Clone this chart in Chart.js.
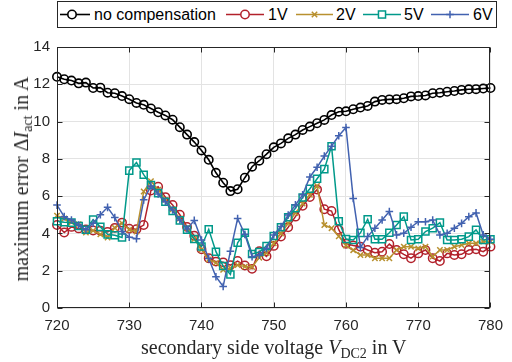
<!DOCTYPE html>
<html><head><meta charset="utf-8">
<script src="https://cdn.jsdelivr.net/npm/chart.js@4.4.0/dist/chart.umd.min.js"></script>
<style>
html,body{margin:0;padding:0;background:#fff;}
#wrap{position:relative;width:512px;height:362px;overflow:hidden;background:#fff;}
#c{position:absolute;left:0;top:0;}
.t{position:absolute;font-family:"Liberation Serif","Times New Roman",serif;font-size:20px;color:#262626;white-space:nowrap;line-height:1;}
.t i{font-style:italic;}
.t sub{font-size:70%;vertical-align:-0.3em;line-height:0;}
#legend{position:absolute;left:57px;top:1px;width:440px;height:27px;border:1px solid #262626;background:#fff;box-sizing:border-box;}
#legend svg{position:absolute;left:0;top:0;}
.lt{position:absolute;top:0;height:25px;line-height:25px;font-family:"Liberation Sans",Arial,sans-serif;font-size:16px;color:#000;white-space:nowrap;}
</style></head>
<body>
<div id="wrap">
<canvas id="c" width="512" height="362"></canvas>
<div id="legend"></div>
<div class="t" id="xt">secondary side voltage <i>V</i><sub>DC2</sub> in V</div>
<div class="t" id="yt">maximum error Δ<i>I</i><sub>act</sub> in A</div>
</div>
<script>
const voltage = [720,721,722,723,724,725,726,727,728,729,730,731,732,733,734,735,736,737,738,739,740,741,742,743,744,745,746,747,748,749,750,751,752,753,754,755,756,757,758,759,760,761,762,763,764,765,766,767,768,769,770,771,772,773,774,775,776,777,778,779,780];
const xTicks = [720,730,740,750,760,770,780];
const yTicks = [0,2,4,6,8,10,12,14];
const seriesNames = ["no compensation","1V","2V","5V","6V"];
const noComp = [12.4,12.27,12.2,12.05,12.09,11.8,11.82,11.55,11.52,11.37,11.2,11.0,10.9,10.7,10.5,10.33,10.1,9.7,9.3,8.9,8.45,7.95,7.25,6.72,6.27,6.37,6.99,7.58,7.9,8.25,8.62,8.83,9.1,9.3,9.55,9.73,9.91,10.09,10.35,10.53,10.55,10.66,10.75,10.84,11.07,11.16,11.19,11.2,11.25,11.35,11.37,11.4,11.52,11.55,11.6,11.64,11.7,11.73,11.74,11.77,11.8];
const comp1V = [4.45,4.05,4.35,4.27,4.22,4.16,4.14,4.08,4.3,4.58,4.25,4.23,4.45,6.3,6.5,5.95,5.53,5.0,4.35,3.88,3.15,2.67,2.49,2.45,2.3,2.52,2.28,2.1,3.05,2.77,3.33,3.83,4.33,4.9,5.48,5.95,6.35,5.3,5.2,4.2,3.45,3.35,3.29,3.11,2.97,3.02,3.43,3.11,2.88,2.67,2.93,3.11,2.67,2.52,2.93,2.84,2.88,3.11,3.15,3.02,3.29];
const comp2V = [4.95,4.8,4.6,4.5,4.05,4.15,3.95,3.78,4.3,4.55,4.2,4.1,6.25,6.8,6.35,5.8,5.3,4.8,4.3,3.7,3.13,2.6,2.42,2.05,2.15,2.3,2.22,2.2,2.7,2.95,3.47,4.0,4.54,5.1,5.6,6.07,6.55,4.45,4.28,3.85,3.35,3.1,2.84,2.84,2.67,2.67,2.67,3.11,3.29,3.29,3.2,3.29,2.76,3.11,3.11,3.29,3.38,3.47,3.47,3.56,3.56];
const comp5V = [4.65,4.6,4.58,4.4,4.2,4.74,4.35,3.95,3.9,3.78,7.37,7.8,7.15,6.6,6.16,5.7,5.2,4.7,4.2,3.7,3.3,4.22,3.02,2.25,1.8,3.5,4.04,2.9,3.0,3.33,3.86,4.33,4.87,5.35,5.93,6.4,6.93,7.45,8.68,4.65,3.7,3.65,4.03,4.76,3.69,3.69,4.04,4.45,4.9,3.65,3.69,4.1,4.28,4.58,3.65,3.65,3.69,3.83,4.19,3.65,3.69];
const comp6V = [5.52,4.9,4.72,4.45,4.2,4.55,5.0,5.4,4.85,4.1,3.8,3.72,5.8,6.55,6.12,5.7,5.26,4.72,4.24,4.7,3.65,2.65,1.68,1.15,3.05,4.8,3.95,2.75,2.84,3.2,3.92,4.37,4.99,5.53,6.07,7.03,7.55,8.15,8.68,9.24,9.68,5.88,3.25,3.83,4.28,4.72,5.17,3.92,4.01,4.33,4.63,4.63,4.72,3.92,4.01,4.28,4.54,4.9,5.1,3.92,3.69];

const styles = [
  {color:'#000000', point:'circle',   r:4.2, lw:1.6},
  {color:'#b2212b', point:'circle',   r:4.2, lw:1.5},
  {color:'#b8902f', point:'crossRot', r:3.8, lw:1.5},
  {color:'#00998a', point:'rect',     r:5.0, lw:1.5},
  {color:'#4262b0', point:'cross',    r:3.8, lw:1.5}
];
const allValues = [noComp, comp1V, comp2V, comp5V, comp6V];

const datasets = allValues.map((vals, k) => ({
  label: seriesNames[k],
  data: voltage.map((v, i) => ({x: v, y: vals[i]})),
  borderColor: styles[k].color,
  backgroundColor: 'rgba(0,0,0,0)',
  pointBorderColor: styles[k].color,
  pointBackgroundColor: 'rgba(0,0,0,0)',
  pointStyle: styles[k].point,
  pointRadius: styles[k].r,
  pointBorderWidth: styles[k].lw,
  borderWidth: styles[k].lw,
  tension: 0,
  clip: false,
  order: 5 - k
}));

const boxPlugin = {
  id: 'boxTicks',
  afterDatasetsDraw(chart) {
    const {ctx, chartArea: a, scales: {x, y}} = chart;
    const L = Math.round(a.left) + 0.5, R = Math.round(a.right) - 0.5;
    const T = Math.round(a.top) + 0.5, B = Math.round(a.bottom) - 0.5;
    const tl = 5;
    ctx.save();
    ctx.strokeStyle = '#262626';
    ctx.lineWidth = 1;
    ctx.beginPath();
    x.ticks.forEach(t => {
      const px = Math.round(x.getPixelForValue(t.value)) + 0.5;
      ctx.moveTo(px, B); ctx.lineTo(px, B - tl);
      ctx.moveTo(px, T); ctx.lineTo(px, T + tl);
    });
    y.ticks.forEach(t => {
      const py = Math.round(y.getPixelForValue(t.value)) + 0.5;
      ctx.moveTo(L, py); ctx.lineTo(L + tl, py);
      ctx.moveTo(R, py); ctx.lineTo(R - tl, py);
    });
    ctx.stroke();
    ctx.strokeRect(L, T, R - L, B - T);
    ctx.restore();
  }
};

const tickFont = {family: '"Liberation Sans", Arial, sans-serif', size: 15};
const chart = new Chart(document.getElementById('c'), {
  type: 'line',
  data: {datasets},
  options: {
    responsive: false,
    animation: false,
    devicePixelRatio: 1,
    layout: {padding: {top: 47, right: 15, left: 0, bottom: 0}},
    plugins: {legend: {display: false}, tooltip: {enabled: false}},
    scales: {
      x: {
        type: 'linear', min: 720, max: 780,
        afterBuildTicks: s => { s.ticks = xTicks.map(v => ({value: v})); },
        afterFit: s => { s.height = 54; },
        grid: {color: '#e3e3e3', lineWidth: 1, drawTicks: false},
        border: {display: false},
        ticks: {font: tickFont, color: '#262626', padding: 9, maxRotation: 0}
      },
      y: {
        type: 'linear', min: 0, max: 14,
        afterBuildTicks: s => { s.ticks = yTicks.map(v => ({value: v})); },
        afterFit: s => { s.width = 57; },
        grid: {color: '#e3e3e3', lineWidth: 1, drawTicks: false},
        border: {display: false},
        ticks: {font: tickFont, color: '#262626', padding: 7}
      }
    }
  },
  plugins: [boxPlugin]
});

// axis titles placed from the chart area
const a = chart.chartArea;
const xt = document.getElementById('xt');
xt.style.left = ((a.left + a.right) / 2) + 'px';
xt.style.top = '347px';
xt.style.transform = 'translate(-50%,-50%)';
const yt = document.getElementById('yt');
yt.style.left = '21px';
yt.style.top = '179px';
yt.style.transform = 'translate(-50%,-50%) rotate(-90deg)';

// legend
const legend = document.getElementById('legend');
const lg = [
  {x0: 2, x1: 32, tx: 36},
  {x0: 168, x1: 206, tx: 210},
  {x0: 238, x1: 275, tx: 278},
  {x0: 305, x1: 343, tx: 346},
  {x0: 373, x1: 411, tx: 415}
];
const NS = 'http://www.w3.org/2000/svg';
const svg = document.createElementNS(NS, 'svg');
svg.setAttribute('width', '440'); svg.setAttribute('height', '27');
const cy = 12.5;
lg.forEach((p, k) => {
  const st = styles[k];
  const line = document.createElementNS(NS, 'line');
  line.setAttribute('x1', p.x0); line.setAttribute('x2', p.x1);
  line.setAttribute('y1', cy); line.setAttribute('y2', cy);
  line.setAttribute('stroke', st.color); line.setAttribute('stroke-width', st.lw);
  svg.appendChild(line);
  const mx = k === 0 ? 14 : (p.x0 + p.x1) / 2;
  let m;
  if (st.point === 'circle') {
    m = document.createElementNS(NS, 'circle');
    m.setAttribute('cx', mx); m.setAttribute('cy', cy); m.setAttribute('r', st.r);
  } else if (st.point === 'rect') {
    const s = st.r * Math.SQRT1_2;
    m = document.createElementNS(NS, 'rect');
    m.setAttribute('x', mx - s); m.setAttribute('y', cy - s);
    m.setAttribute('width', 2 * s); m.setAttribute('height', 2 * s);
  } else if (st.point === 'crossRot') {
    const s = st.r * Math.SQRT1_2;
    m = document.createElementNS(NS, 'path');
    m.setAttribute('d', `M${mx-s},${cy-s}L${mx+s},${cy+s}M${mx-s},${cy+s}L${mx+s},${cy-s}`);
  } else {
    const s = st.r;
    m = document.createElementNS(NS, 'path');
    m.setAttribute('d', `M${mx-s},${cy}L${mx+s},${cy}M${mx},${cy-s}L${mx},${cy+s}`);
  }
  m.setAttribute('fill', 'white'); m.setAttribute('stroke', st.color); m.setAttribute('stroke-width', st.lw);
  svg.appendChild(m);
});
legend.appendChild(svg);
lg.forEach((p, k) => {
  const d = document.createElement('div');
  d.className = 'lt'; d.style.left = p.tx + 'px';
  d.textContent = seriesNames[k];
  legend.appendChild(d);
});
</script>
</body></html>
